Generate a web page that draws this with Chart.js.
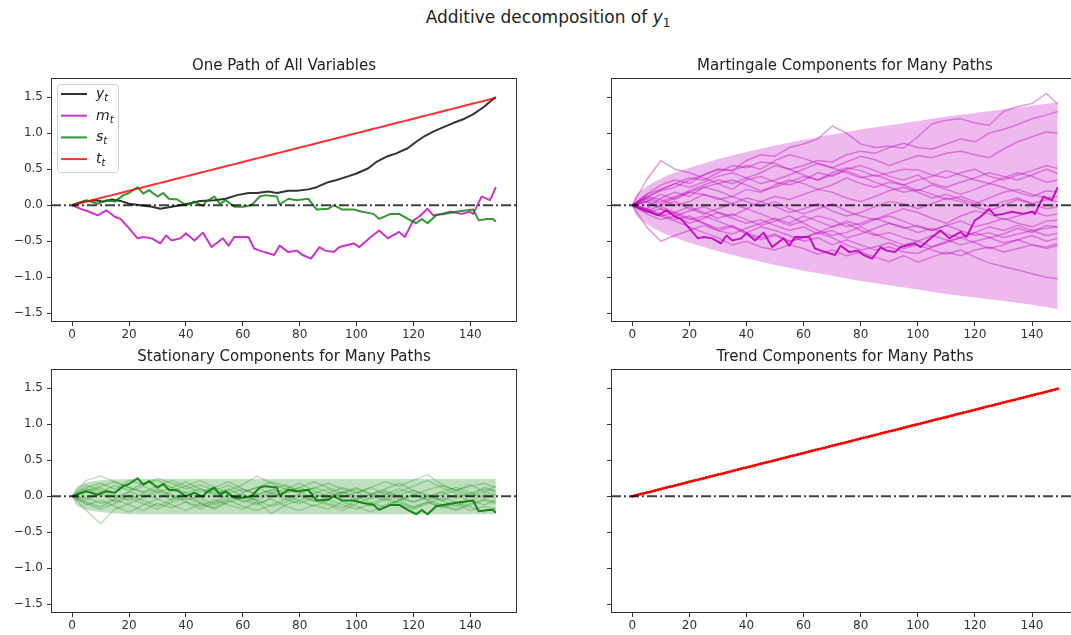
<!DOCTYPE html>
<html>
<head>
<meta charset="utf-8">
<script src="https://cdn.jsdelivr.net/npm/chart.js@4.4.0/dist/chart.umd.min.js"></script>
<style>
  html, body { margin: 0; padding: 0; background: #fff; overflow: hidden; width: 1071px; height: 635px; }
  .box { position: absolute; }
  #sup { position: absolute; left: 0; width: 1096px; top: 7px; text-align: center;
         font: 17px "DejaVu Sans", sans-serif; color: #222; }
  #sup sub { font-size: 12px; vertical-align: -4px; font-style: normal; }
</style>
</head>
<body>
<div id="sup">Additive decomposition of <i>y</i><sub>1</sub></div>
<div class="box" style="left:1px;top:52px;width:566px;height:292px"><canvas id="c1"></canvas></div>
<div class="box" style="left:561px;top:52px;width:568px;height:292px"><canvas id="c2"></canvas></div>
<div class="box" style="left:1px;top:343px;width:566px;height:292px"><canvas id="c3"></canvas></div>
<div class="box" style="left:561px;top:343px;width:568px;height:292px"><canvas id="c4"></canvas></div>
<script>
// axes
const xTicks = [0, 20, 40, 60, 80, 100, 120, 140];
const yTicks = [-1.5, -1.0, -0.5, 0.0, 0.5, 1.0, 1.5];
const xMin = -7.45, xMax = 156.45;
const yMin = -1.62, yMax = 1.765;

// one path: y_t, m_t, s_t
const yT = [0,4,8,11,14,17,20,24,28,31,35,38,42,45,50,54,58,62,65,69,72,76,79,83,86,90,93,97,100,104,107,111,114,118,121,124,127,131,134,138,141,145,147,149];
const yV = [0,0.05,0.07,0.05,0.08,0.06,0.02,0,-0.02,-0.05,-0.02,0,0.03,0.06,0.07,0.09,0.14,0.17,0.17,0.19,0.17,0.2,0.2,0.22,0.25,0.32,0.35,0.4,0.44,0.51,0.6,0.68,0.72,0.79,0.88,0.96,1.02,1.09,1.14,1.2,1.26,1.37,1.44,1.5];
const mT = [0,3,6,9,12,15,17,20,23,25,28,31,33,35,38,40,43,46,49,53,55,57,62,64,66,71,73,76,79,81,84,87,89,92,94,99,101,105,108,111,115,117,120,122,125,127,130,133,137,140,141,144,147,149];
const mV = [0,-0.05,-0.09,-0.14,-0.07,-0.16,-0.19,-0.32,-0.46,-0.44,-0.46,-0.53,-0.42,-0.49,-0.46,-0.39,-0.49,-0.38,-0.58,-0.46,-0.56,-0.44,-0.44,-0.6,-0.63,-0.69,-0.56,-0.65,-0.63,-0.69,-0.74,-0.58,-0.63,-0.65,-0.58,-0.53,-0.58,-0.44,-0.35,-0.46,-0.37,-0.44,-0.21,-0.16,-0.05,-0.14,-0.12,-0.09,-0.12,-0.09,-0.12,0.12,0.07,0.25];
const sT = [0,5,9,12,15,18,20,23,25,27,30,32,34,37,40,43,46,47,50,52,54,57,60,63,66,68,72,73,76,79,83,86,90,92,95,99,102,106,108,112,115,118,121,123,125,128,132,135,139,141,143,146,148,149];
const sV = [0,0.07,0.02,0.07,0.05,0.14,0.17,0.25,0.16,0.21,0.12,0.17,0.09,0.08,0,0.05,-0.01,0.05,0.12,0.02,0.07,-0.02,-0.02,0,0.12,0.14,0.12,0.01,0.09,0.07,0.09,-0.06,-0.05,0,-0.06,-0.06,-0.09,-0.12,-0.19,-0.12,-0.12,-0.19,-0.25,-0.19,-0.25,-0.14,-0.11,-0.09,-0.07,-0.06,-0.21,-0.19,-0.19,-0.23];

// trend component
const trendT = [
  0,1,2,3,4,5,6,7,8,9,10,11,12,13,14,15,16,17,18,19,20,21,22,23,24,25,26,27,28,29,
  30,31,32,33,34,35,36,37,38,39,40,41,42,43,44,45,46,47,48,49,50,51,52,53,54,55,56,57,58,59,
  60,61,62,63,64,65,66,67,68,69,70,71,72,73,74,75,76,77,78,79,80,81,82,83,84,85,86,87,88,89,
  90,91,92,93,94,95,96,97,98,99,100,101,102,103,104,105,106,107,108,109,110,111,112,113,114,115,116,117,118,119,
  120,121,122,123,124,125,126,127,128,129,130,131,132,133,134,135,136,137,138,139,140,141,142,143,144,145,146,147,148,149];
const trendV = [
  0,0.01,0.02,0.03,0.04,0.05,0.06,0.07,0.08,0.09,0.1,0.11,0.12,0.13,0.14,0.15,0.16,0.17,0.18,0.19,0.2,0.21,0.22,0.23,0.24,0.25,0.26,0.27,0.28,0.29,
  0.3,0.31,0.32,0.33,0.34,0.35,0.36,0.37,0.38,0.39,0.4,0.41,0.42,0.43,0.44,0.45,0.46,0.47,0.48,0.49,0.5,0.51,0.52,0.53,0.54,0.55,0.56,0.57,0.58,0.59,
  0.6,0.61,0.62,0.63,0.64,0.65,0.66,0.67,0.68,0.69,0.7,0.71,0.72,0.73,0.74,0.75,0.76,0.77,0.78,0.79,0.8,0.81,0.82,0.83,0.84,0.85,0.86,0.87,0.88,0.89,
  0.9,0.91,0.92,0.93,0.94,0.95,0.96,0.97,0.98,0.99,1.0,1.01,1.02,1.03,1.04,1.05,1.06,1.07,1.08,1.09,1.1,1.11,1.12,1.13,1.14,1.15,1.16,1.17,1.18,1.19,
  1.2,1.21,1.22,1.23,1.24,1.25,1.26,1.27,1.28,1.29,1.3,1.31,1.32,1.33,1.34,1.35,1.36,1.37,1.38,1.39,1.4,1.41,1.42,1.43,1.44,1.45,1.46,1.47,1.48,1.49];

// confidence bands
const bandT = [0,1,2,3,5,8,12,20,30,40,50,60,70,80,90,100,110,120,130,140,149];
const martHi = [0,0.12,0.17,0.2,0.26,0.33,0.41,0.52,0.64,0.74,0.83,0.91,0.98,1.05,1.11,1.17,1.23,1.28,1.33,1.38,1.43];
const martLo = [0,-0.12,-0.17,-0.2,-0.26,-0.33,-0.41,-0.52,-0.64,-0.74,-0.83,-0.91,-0.98,-1.05,-1.11,-1.17,-1.23,-1.28,-1.33,-1.38,-1.44];
const statHi = [0,0.1,0.14,0.16,0.19,0.21,0.23,0.24,0.24,0.24,0.24,0.24,0.24,0.24,0.24,0.24,0.24,0.24,0.24,0.24,0.24];
const statLo = [0,-0.1,-0.14,-0.16,-0.19,-0.21,-0.23,-0.25,-0.25,-0.25,-0.25,-0.25,-0.25,-0.25,-0.25,-0.25,-0.25,-0.25,-0.25,-0.25,-0.25];

// many simulated paths, read every 5 steps
const tCoarse = [0,5,10,15,20,25,30,35,40,45,50,55,60,65,70,75,80,85,90,95,100,105,110,115,120,125,130,135,140,145,149];
const martPaths = [
  [0,0.15,0.28,0.35,0.3,0.42,0.5,0.48,0.62,0.7,0.68,0.8,0.85,0.92,1.1,1.0,0.85,0.8,0.82,0.79,0.95,1.13,1.18,1.2,1.14,1.11,1.3,1.37,1.41,1.55,1.4],
  [0,0.1,0.22,0.3,0.38,0.35,0.45,0.55,0.52,0.6,0.58,0.5,0.55,0.62,0.6,0.7,0.75,0.72,0.8,0.86,0.8,0.78,0.85,0.92,0.88,1.0,1.05,1.12,1.2,1.25,1.3],
  [0,0.12,0.2,0.25,0.35,0.42,0.5,0.48,0.55,0.5,0.62,0.7,0.65,0.58,0.52,0.6,0.68,0.63,0.55,0.62,0.69,0.66,0.72,0.75,0.7,0.66,0.78,0.88,0.95,1.02,1.0],
  [0,0.35,0.62,0.5,0.45,0.38,0.3,0.35,0.28,0.2,0.25,0.32,0.4,0.35,0.45,0.52,0.48,0.4,0.45,0.5,0.49,0.42,0.38,0.45,0.5,0.4,0.35,0.42,0.48,0.55,0.51],
  [0,-0.05,0.1,0.18,0.12,0.25,0.3,0.22,0.35,0.4,0.32,0.28,0.35,0.45,0.4,0.5,0.55,0.48,0.4,0.35,0.42,0.3,0.25,0.32,0.38,0.45,0.4,0.35,0.42,0.5,0.44],
  [0,0.08,0.02,0.1,0.18,0.15,0.08,0.12,0.22,0.18,0.28,0.35,0.3,0.22,0.28,0.38,0.3,0.25,0.32,0.28,0.35,0.4,0.48,0.42,0.35,0.3,0.38,0.45,0.4,0.32,0.35],
  [0,0.12,0.08,0,0.05,0.15,0.1,0.02,-0.05,0.05,0.12,0.08,0.15,0.22,0.18,0.1,0.05,0.12,0.2,0.25,0.18,0.1,0.15,0.08,0.02,0.1,0.18,0.22,0.15,0.1,0.12],
  [0,-0.08,0,0.05,-0.05,-0.12,-0.05,0.02,0.1,0.05,-0.02,-0.1,-0.05,0.02,-0.08,-0.15,-0.1,-0.02,0.05,0.02,-0.05,0.02,0.1,0.05,-0.02,-0.08,0,0.08,0.02,-0.05,-0.02],
  [0,0.05,0.15,0.08,0.18,0.25,0.2,0.12,0.05,-0.02,0.05,-0.05,-0.12,-0.05,0.02,-0.08,-0.15,-0.2,-0.12,-0.05,-0.1,-0.18,-0.25,-0.15,-0.08,-0.12,-0.2,-0.15,-0.08,-0.15,-0.12],
  [0,-0.12,-0.2,-0.15,-0.25,-0.18,-0.1,-0.15,-0.05,-0.12,-0.2,-0.28,-0.22,-0.15,-0.2,-0.3,-0.25,-0.18,-0.25,-0.32,-0.28,-0.35,-0.28,-0.22,-0.3,-0.25,-0.18,-0.25,-0.3,-0.22,-0.21],
  [0,-0.1,-0.05,-0.15,-0.08,-0.02,-0.1,-0.18,-0.25,-0.2,-0.28,-0.35,-0.3,-0.4,-0.35,-0.45,-0.4,-0.32,-0.25,-0.3,-0.38,-0.32,-0.4,-0.45,-0.38,-0.3,-0.35,-0.28,-0.35,-0.32,-0.3],
  [0,0.05,-0.02,-0.1,-0.18,-0.25,-0.35,-0.3,-0.4,-0.48,-0.42,-0.5,-0.45,-0.38,-0.3,-0.22,-0.28,-0.2,-0.15,-0.22,-0.3,-0.35,-0.28,-0.35,-0.42,-0.38,-0.45,-0.4,-0.35,-0.42,-0.39],
  [0,-0.3,-0.5,-0.42,-0.35,-0.28,-0.35,-0.4,-0.32,-0.25,-0.18,-0.25,-0.15,-0.22,-0.3,-0.25,-0.35,-0.42,-0.38,-0.45,-0.5,-0.42,-0.48,-0.55,-0.5,-0.45,-0.52,-0.48,-0.42,-0.5,-0.46],
  [0,-0.08,-0.15,-0.22,-0.3,-0.38,-0.45,-0.55,-0.5,-0.58,-0.62,-0.55,-0.6,-0.68,-0.62,-0.7,-0.65,-0.72,-0.78,-0.7,-0.79,-0.72,-0.65,-0.7,-0.62,-0.58,-0.65,-0.6,-0.55,-0.58,-0.53],
  [0,-0.05,-0.12,-0.2,-0.15,-0.25,-0.32,-0.28,-0.38,-0.45,-0.4,-0.5,-0.45,-0.38,-0.45,-0.55,-0.62,-0.58,-0.52,-0.6,-0.55,-0.62,-0.68,-0.62,-0.72,-0.8,-0.85,-0.9,-0.95,-1.0,-1.02],
  [0,0.15,0.22,0.3,0.25,0.32,0.4,0.45,0.38,0.3,0.35,0.42,0.5,0.58,0.52,0.45,0.38,0.42,0.35,0.28,0.2,0.28,0.22,0.15,0.22,0.3,0.25,0.18,0.12,0.2,0.18],
  [0,-0.05,-0.15,-0.1,-0.02,-0.1,-0.18,-0.12,-0.2,-0.28,-0.22,-0.15,-0.25,-0.35,-0.42,-0.38,-0.3,-0.4,-0.48,-0.55,-0.5,-0.58,-0.52,-0.45,-0.52,-0.6,-0.55,-0.48,-0.55,-0.6,-0.56],
  [0,0.1,0.05,0.12,0.2,0.28,0.35,0.3,0.38,0.45,0.55,0.5,0.42,0.35,0.42,0.48,0.4,0.32,0.25,0.18,0.22,0.15,0.08,0.12,0.05,-0.02,0.05,0.1,0.02,0.08,0.05],
  [0,0.05,-0.05,-0.12,-0.2,-0.15,-0.22,-0.3,-0.38,-0.3,-0.35,-0.42,-0.5,-0.45,-0.55,-0.48,-0.55,-0.62,-0.58,-0.65,-0.67,-0.58,-0.5,-0.45,-0.38,-0.45,-0.4,-0.32,-0.38,-0.28,-0.3]
];
const statPaths = [
  [0,0.22,0.28,0.2,0.12,0.05,0.1,0.02,-0.05,0,0.08,0.02,-0.08,-0.02,0.05,0,-0.06,0.04,0.1,0.02,-0.04,0.03,0.08,0,-0.08,-0.02,0.06,0.12,0.05,-0.03,0.02],
  [0,-0.2,-0.38,-0.18,-0.1,-0.02,0.05,-0.05,0.02,-0.08,-0.12,-0.05,0.03,-0.06,-0.14,-0.08,0,-0.07,-0.02,0.06,0,-0.09,-0.15,-0.06,0.02,-0.05,-0.12,-0.18,-0.1,-0.04,-0.08],
  [0,0.1,0.05,0.15,0.08,0.18,0.22,0.12,0.05,0.1,0.02,0.08,0.16,0.28,0.18,0.1,0.04,0.12,0.06,-0.02,0.05,0.12,0.03,-0.05,0.02,0.09,0.15,0.08,0.02,0.1,0.06],
  [0,-0.08,-0.15,-0.05,-0.12,-0.2,-0.1,-0.16,-0.08,-0.14,-0.05,-0.12,-0.18,-0.08,-0.24,-0.12,-0.06,-0.14,-0.05,-0.12,-0.18,-0.1,-0.02,-0.09,-0.16,-0.08,-0.14,-0.2,-0.12,-0.06,-0.1],
  [0,0.12,0.18,0.1,0.22,0.16,0.25,0.18,0.1,0.16,0.08,0.15,0.06,0.12,0.2,0.14,0.06,0.11,0.18,0.1,0.04,0.12,0.2,0.14,0.22,0.3,0.16,0.08,0.14,0.18,0.12],
  [0,-0.05,0.05,-0.08,0.02,-0.06,-0.14,-0.04,0.06,-0.03,-0.1,-0.02,0.05,0.12,0.04,-0.04,0.03,-0.06,-0.12,-0.2,-0.1,-0.02,0.06,-0.03,-0.08,0,-0.06,0.02,-0.07,0.03,-0.02],
  [0,0.15,0.08,-0.02,0.06,0.14,0.05,0.12,0.2,0.1,0.04,0.1,0,-0.06,0.04,0.1,0.18,0.08,0,0.06,-0.04,0.02,0.1,0.18,0.08,0,0.06,-0.03,0.04,0.12,0.08],
  [0,-0.12,-0.06,-0.14,-0.22,-0.12,-0.04,-0.12,-0.2,-0.1,-0.18,-0.08,-0.02,-0.1,-0.04,-0.14,-0.2,-0.12,-0.18,-0.08,-0.14,-0.22,-0.12,-0.06,-0.15,-0.08,-0.16,-0.1,-0.2,-0.14,-0.18],
  [0,0.05,0.12,0.02,-0.06,0.04,-0.04,0.08,0.14,0.22,0.12,0.04,0.1,0.02,0.08,0.16,0.06,-0.02,0.04,0.12,0.06,-0.04,0.02,0.1,0.04,-0.05,0.02,0.08,0.16,0.06,0.14],
  [0,-0.02,-0.1,-0.04,0.06,0,0.08,0,-0.08,-0.18,-0.08,0.02,-0.06,-0.12,-0.02,0.06,0.12,0.04,-0.04,0.04,0.1,0.02,-0.06,0.02,0.08,0.02,-0.06,-0.14,-0.06,-0.12,-0.05],
  [0,0.08,0.14,0.2,0.12,0.06,0.14,0.22,0.14,0.06,0.12,0.2,0.1,0.02,0.09,0.04,0.12,0.2,0.12,0.05,0.12,0.04,-0.02,0.06,0.14,0.22,0.12,0.04,0,0.06,0.02],
  [0,-0.1,-0.18,-0.1,-0.02,-0.1,-0.18,-0.08,-0.02,-0.1,-0.16,-0.06,-0.14,-0.2,-0.12,-0.04,-0.1,-0.02,-0.1,-0.16,-0.06,-0.14,-0.04,-0.12,-0.18,-0.1,-0.02,-0.08,-0.15,-0.22,-0.16]
];

const FONT = '"DejaVu Sans", sans-serif';

function pts(ts, vs) { return vs.map((v, i) => ({ x: ts[i], y: v })); }

function zeroLine() {
  return { data: [{ x: xMin, y: 0 }, { x: xMax, y: 0 }], borderColor: 'rgba(0,0,0,0.75)',
           borderWidth: 2, borderDash: [10, 3, 2, 3], order: 0 };
}

function fmt(v) {
  return (v < 0 ? '\u2212' : '') + Math.abs(v).toFixed(1);
}

// draws the four spines
const frame = {
  id: 'frame',
  afterDraw(chart) {
    const a = chart.chartArea, ctx = chart.ctx;
    ctx.save();
    ctx.strokeStyle = '#333';
    ctx.lineWidth = 1;
    ctx.strokeRect(Math.round(a.left) + 0.5, Math.round(a.top) + 0.5,
                   Math.round(a.right - a.left) - 1, Math.round(a.bottom - a.top) - 1);
    ctx.restore();
  }
};

// legend box inside the axes, upper left
const innerLegend = {
  id: 'innerLegend',
  afterDatasetsDraw(chart) {
    const items = chart.data.datasets.filter(d => d.sym);
    if (!items.length) return;
    const ctx = chart.ctx, a = chart.chartArea;
    const x0 = a.left + 6, y0 = a.top + 6;
    ctx.save();
    ctx.beginPath();
    ctx.roundRect(x0 + 0.5, y0 + 0.5, 61, 88, 3);
    ctx.fillStyle = 'rgba(255,255,255,0.85)';
    ctx.fill();
    ctx.strokeStyle = '#d0d0d0';
    ctx.lineWidth = 1;
    ctx.stroke();
    items.forEach((d, i) => {
      const y = y0 + 10 + i * 21.7;
      ctx.beginPath();
      ctx.moveTo(x0 + 4, y);
      ctx.lineTo(x0 + 30, y);
      ctx.strokeStyle = d.borderColor;
      ctx.lineWidth = 2;
      ctx.stroke();
      ctx.fillStyle = '#222';
      ctx.textBaseline = 'alphabetic';
      ctx.font = 'italic 14px ' + FONT;
      ctx.fillText(d.sym, x0 + 39, y + 4);
      const w = ctx.measureText(d.sym).width;
      ctx.font = 'italic 10px ' + FONT;
      ctx.fillText('t', x0 + 39 + w, y + 7);
    });
    ctx.restore();
  }
};

function makeChart(id, title, datasets, showY) {
  return new Chart(document.getElementById(id), {
    type: 'line',
    data: { datasets },
    options: {
      responsive: true,
      maintainAspectRatio: false,
      animation: false,
      layout: { padding: { left: 0, right: 50, top: 0, bottom: 0 } },
      elements: { point: { radius: 0 }, line: { tension: 0, borderJoinStyle: 'round', fill: false } },
      plugins: {
        legend: { display: false },
        tooltip: { enabled: false },
        title: {
          display: true, text: title, fullSize: false, color: '#222',
          font: { family: FONT, size: 15, weight: 'normal', lineHeight: 1 },
          padding: { top: 6.5, bottom: 4.5 }
        }
      },
      scales: {
        x: {
          type: 'linear', min: xMin, max: xMax,
          afterBuildTicks: s => { s.ticks = xTicks.map(v => ({ value: v })); },
          afterFit: s => { s.height = 22; },
          grid: { drawOnChartArea: false, drawTicks: true, tickLength: 4, tickColor: '#333' },
          border: { display: false },
          ticks: { color: '#333', font: { family: FONT, size: 12 }, padding: 2, maxRotation: 0,
                   autoSkip: false, callback: v => String(v) }
        },
        y: {
          type: 'linear', min: yMin, max: yMax,
          afterBuildTicks: s => { s.ticks = yTicks.map(v => ({ value: v })); },
          afterFit: s => { s.width = 50; },
          grid: { drawOnChartArea: false, drawTicks: true, tickLength: 4, tickColor: '#333' },
          border: { display: false },
          ticks: { color: '#333', font: { family: FONT, size: 12 }, padding: 4,
                   autoSkip: false, callback: v => showY ? fmt(v) : '' }
        }
      }
    },
    plugins: [frame, innerLegend]
  });
}

// One path of all variables
makeChart('c1', 'One Path of All Variables', [
  zeroLine(),
  { sym: 'y', data: pts(yT, yV), borderColor: 'rgba(0,0,0,0.8)', borderWidth: 2, order: 4 },
  { sym: 'm', data: pts(mT, mV), borderColor: 'rgba(191,0,191,0.8)', borderWidth: 2, order: 3 },
  { sym: 's', data: pts(sT, sV), borderColor: 'rgba(0,128,0,0.8)', borderWidth: 2, order: 2 },
  { sym: 't', data: pts(trendT, trendV), borderColor: 'rgba(255,0,0,0.8)', borderWidth: 2, order: 1 }
], true);

// Martingale components
makeChart('c2', 'Martingale Components for Many Paths', [
  { data: pts(bandT, martLo), borderWidth: 0, borderColor: 'rgba(0,0,0,0)', order: 20 },
  { data: pts(bandT, martHi), borderWidth: 0, borderColor: 'rgba(0,0,0,0)', fill: '-1',
    backgroundColor: 'rgba(191,0,191,0.27)', order: 19 },
  ...martPaths.map(p => ({ data: pts(tCoarse, p), borderColor: 'rgba(191,0,191,0.4)', borderWidth: 1.5, order: 5 })),
  { data: pts(mT, mV), borderColor: 'rgba(191,0,191,0.9)', borderWidth: 2, order: 2 },
  zeroLine()
], false);

// Stationary components
makeChart('c3', 'Stationary Components for Many Paths', [
  { data: pts(bandT, statLo), borderWidth: 0, borderColor: 'rgba(0,0,0,0)', order: 20 },
  { data: pts(bandT, statHi), borderWidth: 0, borderColor: 'rgba(0,0,0,0)', fill: '-1',
    backgroundColor: 'rgba(0,128,0,0.25)', order: 19 },
  ...statPaths.map(p => ({ data: pts(tCoarse, p), borderColor: 'rgba(0,128,0,0.25)', borderWidth: 1.5, order: 5 })),
  { data: pts(sT, sV), borderColor: 'rgba(0,128,0,0.9)', borderWidth: 2, order: 2 },
  zeroLine()
], true);

// Trend components
makeChart('c4', 'Trend Components for Many Paths', [
  { data: pts(trendT, trendV), borderColor: '#ff0000', borderWidth: 2, pointRadius: 1.5,
    pointBorderWidth: 0, pointBackgroundColor: '#ff0000', order: 2 },
  zeroLine()
], false);
</script>
</body>
</html>
